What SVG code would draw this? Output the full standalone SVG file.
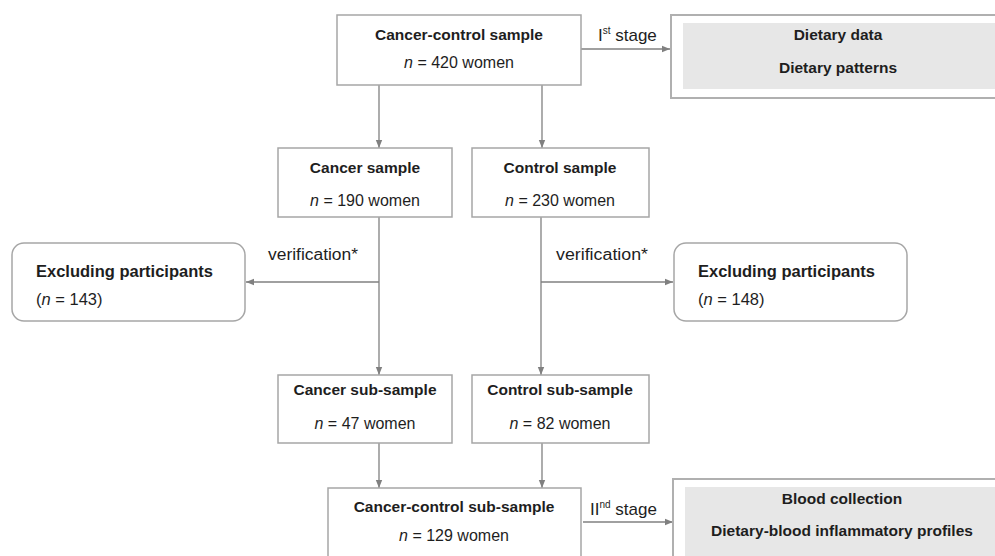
<svg xmlns="http://www.w3.org/2000/svg" width="995" height="556" viewBox="0 0 995 556">
<style>
.box{fill:#fff;stroke:#a6a6a6;stroke-width:1.5}
.obox{fill:#fff;stroke:#b0b0b0;stroke-width:2}
.gray{fill:#e7e7e7}
.ln{fill:none;stroke:#808080;stroke-width:1.3}
text{font-family:"Liberation Sans",Arial,sans-serif;fill:#1e1e1e}
.b{font-weight:bold;font-size:15.5px;text-anchor:middle}
.r{font-size:16px;text-anchor:middle}
.ex{font-weight:bold;font-size:16.5px}
.exn{font-size:16.5px}
.v{font-size:16px}
.st{font-size:17px}
.sup{font-size:10px}
</style>
<defs>
<marker id="ah" viewBox="0 0 10 10" refX="10" refY="5" markerWidth="8" markerHeight="8" markerUnits="userSpaceOnUse" orient="auto">
<path d="M0,1 L10,5 L0,9 Z" fill="#808080"/>
</marker>
</defs>
<g id="connectors">
<line class="ln" x1="581" y1="49" x2="670" y2="49" marker-end="url(#ah)"/>
<line class="ln" x1="379" y1="85" x2="379" y2="148" marker-end="url(#ah)"/>
<line class="ln" x1="542" y1="85" x2="542" y2="148" marker-end="url(#ah)"/>
<line class="ln" x1="379" y1="217" x2="379" y2="375" marker-end="url(#ah)"/>
<line class="ln" x1="541" y1="217" x2="541" y2="375" marker-end="url(#ah)"/>
<line class="ln" x1="379" y1="282" x2="246" y2="282" marker-end="url(#ah)"/>
<line class="ln" x1="541" y1="282" x2="673" y2="282" marker-end="url(#ah)"/>
<line class="ln" x1="379" y1="443" x2="379" y2="488" marker-end="url(#ah)"/>
<line class="ln" x1="542" y1="443" x2="542" y2="488" marker-end="url(#ah)"/>
<line class="ln" x1="583" y1="522" x2="673" y2="522" marker-end="url(#ah)"/>
<text class="st" x="598" y="41">I<tspan class="sup" dy="-7">st</tspan><tspan dy="7"> stage</tspan></text>
<text class="v" x="268" y="260" textLength="90" lengthAdjust="spacingAndGlyphs">verification*</text>
<text class="v" x="556" y="260" textLength="92" lengthAdjust="spacingAndGlyphs">verification*</text>
<text class="st" x="590" y="515">II<tspan class="sup" dy="-7">nd</tspan><tspan dy="7"> stage</tspan></text>
</g>
<g id="n-cancer-control">
<rect class="box" x="337" y="15" width="244" height="70"/>
<text class="b" x="459" y="40">Cancer-control sample</text>
<text class="r" x="459" y="68"><tspan font-style="italic">n</tspan> = 420 women</text>
</g>
<g id="n-stage1">
<rect class="obox" x="671" y="15" width="330" height="83"/>
<rect class="gray" x="683" y="23" width="312" height="66"/>
<text class="b" x="838" y="40">Dietary data</text>
<text class="b" x="838" y="73">Dietary patterns</text>
</g>
<g id="n-cancer">
<rect class="box" x="278" y="148" width="174" height="69"/>
<text class="b" x="365" y="173">Cancer sample</text>
<text class="r" x="365" y="206"><tspan font-style="italic">n</tspan> = 190 women</text>
</g>
<g id="n-control">
<rect class="box" x="472" y="148" width="177" height="69"/>
<text class="b" x="560" y="173">Control sample</text>
<text class="r" x="560" y="206"><tspan font-style="italic">n</tspan> = 230 women</text>
</g>
<g id="n-excl-left">
<rect class="box" x="12" y="243" width="233" height="78" rx="12"/>
<text class="ex" x="36" y="277">Excluding participants</text>
<text class="exn" x="36" y="305">(<tspan font-style="italic">n</tspan> = 143)</text>
</g>
<g id="n-excl-right">
<rect class="box" x="674" y="243" width="233" height="78" rx="12"/>
<text class="ex" x="698" y="277">Excluding participants</text>
<text class="exn" x="698" y="305">(<tspan font-style="italic">n</tspan> = 148)</text>
</g>
<g id="n-cancer-sub">
<rect class="box" x="278" y="375" width="174" height="68"/>
<text class="b" x="365" y="395">Cancer sub-sample</text>
<text class="r" x="365" y="429"><tspan font-style="italic">n</tspan> = 47 women</text>
</g>
<g id="n-control-sub">
<rect class="box" x="472" y="375" width="177" height="68"/>
<text class="b" x="560" y="395">Control sub-sample</text>
<text class="r" x="560" y="429"><tspan font-style="italic">n</tspan> = 82 women</text>
</g>
<g id="n-cc-sub">
<rect class="box" x="328" y="488" width="253" height="80"/>
<text class="b" x="454" y="512">Cancer-control sub-sample</text>
<text class="r" x="454" y="541"><tspan font-style="italic">n</tspan> = 129 women</text>
</g>
<g id="n-stage2">
<rect class="obox" x="673" y="479" width="330" height="90"/>
<rect class="gray" x="685" y="487" width="310" height="75"/>
<text class="b" x="842" y="504">Blood collection</text>
<text class="b" x="842" y="536">Dietary-blood inflammatory profiles</text>
</g>
</svg>
